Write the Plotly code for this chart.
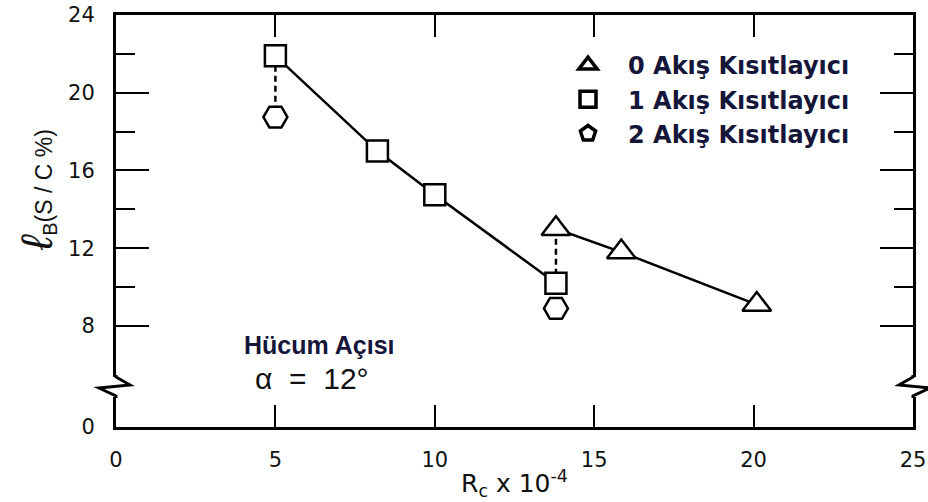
import plotly.graph_objects as go

# Reynolds number (x 10^-4) and buffet lift level for each flow-restrictor count
rc_0 = [13.8, 15.85, 20.1]
lb_0 = [13.0, 11.8, 9.1]

rc_1 = [5.0, 8.2, 10.0, 13.8]
lb_1 = [21.9, 17.0, 14.75, 10.2]

rc_2 = [5.0, 13.8]
lb_2 = [18.75, 8.9]

# y axis is broken between 0 and 8: the "0" tick sits at this compressed position
Y_ZERO_POS = 2.8
y_tick_vals = [Y_ZERO_POS, 8, 12, 16, 20, 24]
y_tick_text = ["0", "8", "12", "16", "20", "24"]
y_minor_vals = [10, 14, 18, 22]
x_tick_vals = [0, 5, 10, 15, 20, 25]

legend_names = ["0 Akış Kısıtlayıcı", "1 Akış Kısıtlayıcı", "2 Akış Kısıtlayıcı"]

INK = "black"
NAVY = "#15163a"
SANS = "Liberation Sans, Arial"
WIDE = "DejaVu Sans"

# plot area in pixels (used to place decorations in paper units)
L, R, T, B = 116, 15, 15, 75
W, H = 928, 502
PW, PH = W - L - R, H - T - B


def px(xp):
    return (xp - L) / PW


def py(yp):
    return (H - B - yp) / PH


fig = go.Figure()

# dashed connectors between series at the same Reynolds number
fig.add_trace(go.Scatter(x=[rc_1[0], rc_2[0]], y=[lb_1[0], lb_2[0]], mode="lines",
                         line=dict(color=INK, width=2.5, dash="6px,4px"),
                         showlegend=False, hoverinfo="skip"))
fig.add_trace(go.Scatter(x=[rc_0[0], rc_1[-1]], y=[lb_0[0], lb_1[-1]], mode="lines",
                         line=dict(color=INK, width=2.5, dash="6px,4px"),
                         showlegend=False, hoverinfo="skip"))

# data series
fig.add_trace(go.Scatter(x=rc_1, y=lb_1, mode="lines+markers",
                         line=dict(color=INK, width=2.5),
                         marker=dict(symbol="square", size=21, color="white",
                                     line=dict(color=INK, width=2.5)),
                         showlegend=False))
fig.add_trace(go.Scatter(x=rc_0, y=lb_0, mode="lines+markers",
                         line=dict(color=INK, width=2.5),
                         marker=dict(symbol="triangle-up", size=25, color="white",
                                     line=dict(color=INK, width=2.5)),
                         showlegend=False))
fig.add_trace(go.Scatter(x=rc_2, y=lb_2, mode="markers",
                         marker=dict(symbol="hexagon2", size=24, color="white",
                                     line=dict(color=INK, width=2.5)),
                         showlegend=False))

# legend entries
for name, sym, grp in zip(legend_names,
                          ["triangle-up-open", "square-open", "pentagon-open"],
                          ["g0", "g1", "g2"]):
    fig.add_trace(go.Scatter(x=[None], y=[None], mode="markers", name=name,
                             legendgroup=grp,
                             marker=dict(symbol=sym, size=18, color=INK,
                                         line=dict(color=INK, width=3.5))))

axis_common = dict(
    showgrid=False, zeroline=False, showline=True, mirror="ticks", automargin=False,
    linecolor=INK, linewidth=3, ticks="inside", tickcolor=INK, tickwidth=2,
)

fig.update_xaxes(
    range=[0, 25], tickvals=x_tick_vals, ticklen=22, ticklabelstandoff=12,
    tickfont=dict(family=WIDE, size=21, color="#111"),
    title=dict(text="R<sub>c</sub> x 10<sup>-4</sup>", standoff=4,
               font=dict(family=WIDE, size=25, color="#111")),
    **axis_common)
fig.update_yaxes(
    range=[Y_ZERO_POS, 24], tickvals=y_tick_vals, ticktext=y_tick_text,
    ticklen=33, ticklabelstandoff=14,
    tickfont=dict(family=WIDE, size=21, color="#111"),
    minor=dict(tickvals=y_minor_vals, ticklen=19, tickcolor=INK, tickwidth=2,
               ticks="inside"),
    **axis_common)

shapes = []
# cut the vertical frame lines at the axis break and draw the zigzags
for xa in [L, W - R]:
    shapes.append(dict(type="rect", xref="paper", yref="paper",
                       x0=px(xa - 4), x1=px(xa + 4), y0=py(397), y1=py(377),
                       fillcolor="white", line=dict(width=0), layer="above"))
for xa, d in [(L, 1), (W - R, -1)]:
    pts = [(xa, 398), (xa, 396), (xa - 17 * d, 388), (xa + 14 * d, 385), (xa, 377), (xa, 375)]
    path = "M " + " L ".join(f"{px(a):.5f},{py(b):.5f}" for a, b in pts)
    shapes.append(dict(type="path", xref="paper", yref="paper", path=path,
                       line=dict(color=INK, width=3), layer="above"))

annotations = [
    dict(text="<span style='font-size:44px'><i>ℓ</i></span>"
              "<sub><span style='font-size:20px'>B</span></sub>(S / C %)",
         x=px(36), y=py(190), xref="paper", yref="paper", textangle=-90,
         showarrow=False, xanchor="center", yanchor="middle",
         font=dict(family=SANS, size=23, color="#111")),
    dict(text="<b>Hücum Açısı</b>", x=px(319), y=py(345), xref="paper", yref="paper",
         showarrow=False, xanchor="center", yanchor="middle",
         font=dict(family=SANS, size=25, color=NAVY)),
    dict(text="α&nbsp;&nbsp;=&nbsp;&nbsp;12°", x=px(312), y=py(378),
         xref="paper", yref="paper",
         showarrow=False, xanchor="center", yanchor="middle",
         font=dict(family=SANS, size=30, color="#111")),
]

fig.update_layout(
    width=W, height=H,
    margin=dict(l=L, r=R, t=T, b=B, autoexpand=False),
    paper_bgcolor="white", plot_bgcolor="white",
    shapes=shapes, annotations=annotations,
    legend=dict(x=px(548), y=py(43), xanchor="left", yanchor="top",
                bgcolor="rgba(0,0,0,0)", tracegroupgap=0, itemsizing="trace",
                itemwidth=70,
                font=dict(family=WIDE, size=24, color=NAVY, weight="bold")),
)

fig.write_html("out.html")
